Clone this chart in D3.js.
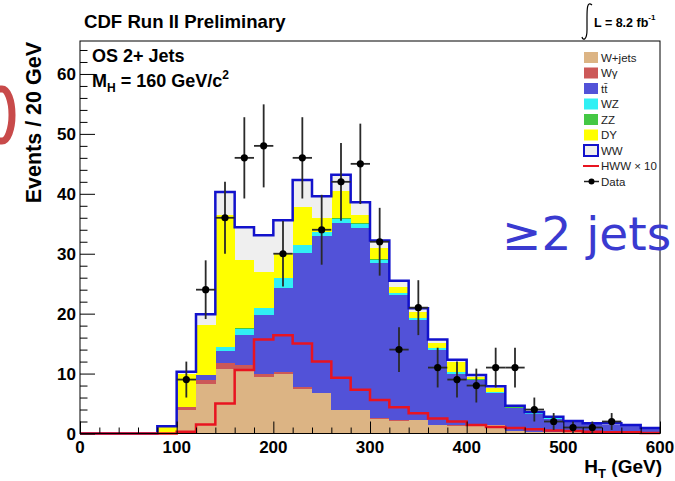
<!DOCTYPE html>
<html><head><meta charset="utf-8">
<script src="https://cdn.jsdelivr.net/npm/d3@7"></script>
<style>
html,body{margin:0;padding:0;background:#fff;}
svg{display:block;}
text{font-family:"Liberation Sans",Arial,Helvetica,sans-serif;}
</style></head>
<body>
<svg id="c" width="675" height="481"></svg>
<script>
// ---- data (bins of 20 GeV, lower edges) ----
const binLow = [0,20,40,60,80,100,120,140,160,180,200,220,240,260,280,300,320,340,360,380,400,420,440,460,480,500,520,540,560,580];
const binWidth = 20;
const wjets  = [0,0,0,0,0, 3.9,8.2,10.8,10.5,9.4,10.0,7.5,6.7,3.9,3.9,2.5,2.1,2.2,1.4,1.3,1.4,1.4,0.4,0.3,0.3,0.2,0.2,0.1,0.5,0.1];
const wgamma = [0,0,0,0,0, 0.5,0.8,0.9,0.9,0.5,0.2,0.2,0.1,0.1,0.1,0.1,0.1,0.1,0.1,0.1,0.05,0.05,0,0,0,0,0,0,0,0];
const ttbar  = [0,0,0,0,0, 0.1,0.7,2.0,5.0,9.9,14.0,22.5,26.1,31.1,30.3,25.9,20.9,16.6,12.5,8.6,7.4,5.3,3.8,3.0,2.2,1.7,1.4,1.4,0.8,0.7];
const wz     = [0,0,0,0,0, 0,0.1,0.7,1.1,1.1,1.7,1.2,0.7,0.7,0.7,0.5,0.3,0.3,0.2,0.2,0.1,0.1,0.1,0.05,0.05,0,0,0,0,0];
const zz     = [0,0,0,0,0, 0,0,0.1,0.1,0.1,0.1,0.1,0.1,0.1,0.1,0.1,0.1,0.1,0.1,0.1,0.1,0.05,0.05,0,0,0,0,0,0,0];
const dy     = [0,0,0,0,1.1, 5.4,8.3,22.0,11.4,6.0,4.1,6.3,2.2,4.5,1.4,1.8,1.0,0.9,0.8,1.6,0.3,0.7,0.1,0.1,0.05,0,0,0,0,0];
const ww     = [0,0,0,0,0.1, 0.4,1.8,3.8,5.4,6.1,5.5,4.5,3.7,2.8,2.1,1.3,1.0,0.7,0.6,0.4,0.4,0.3,0.2,0.15,0.2,0.2,0.1,0.2,0.1,0.1];
const hww10  = [0,0,0,0,0, 0.3,1.5,5.0,10.6,15.7,16.4,15.0,12.0,9.3,7.3,5.6,4.4,3.4,2.5,2.0,1.4,1.1,0.9,0.7,0.5,0.4,0.3,0.2,0.2,0.1];
const dataCounts = [0,0,0,0,0, 9,24,36,46,48,30,46,34,42,45,32,14,21,11,9,8,11,11,4,2,1,1,2,0,0];

const seriesNames  = ["W+jets","Wγ","tt̄","WZ","ZZ","DY","WW"];
const seriesColors = ["#dcb484","#cc5858","#5252d8","#30f0f4","#44c844","#ffff00","#efefef"];
const seriesValues = [wjets,wgamma,ttbar,wz,zz,dy,ww];
const xTicks = [0,100,200,300,400,500,600];
const yTicks = [0,10,20,30,40,50,60];

// ---- layout ----
const svg = d3.select("#c");
const L=80, R=660, T=41, B=433.5;
const x = d3.scaleLinear().domain([0,600]).range([L,R]);
const y = d3.scaleLinear().domain([0,65.5]).range([B,T]);

const table = binLow.map((b,i)=>{const o={x0:b}; seriesNames.forEach((n,k)=>o[n]=seriesValues[k][i]); return o;});
const stack = d3.stack().keys(seriesNames)(table);

const g = svg.append("g");
stack.forEach((layer,k)=>{
  g.append("g").selectAll("rect").data(layer).join("rect")
    .attr("x", d=>x(d.data.x0))
    .attr("width", d=>x(d.data.x0+binWidth)-x(d.data.x0)+0.4)
    .attr("y", d=>y(d[1]))
    .attr("height", d=>Math.max(0,y(d[0])-y(d[1])))
    .attr("fill", seriesColors[k])
    .attr("shape-rendering","crispEdges");
});

function stepPoints(vals){
  const pts = binLow.map((b,i)=>[b,vals[i]]);
  pts.push([binLow[binLow.length-1]+binWidth, vals[vals.length-1]]);
  return pts;
}
const stepLine = d3.line().x(d=>x(d[0])).y(d=>y(d[1])).curve(d3.curveStepAfter);
const totals = binLow.map((b,i)=>seriesValues.reduce((s,a)=>s+a[i],0));
g.append("path").attr("d", stepLine(stepPoints(totals)))
  .attr("fill","none").attr("stroke","#1212cc").attr("stroke-width",2.5);
g.append("path").attr("d", stepLine(stepPoints(hww10)))
  .attr("fill","none").attr("stroke","#e81420").attr("stroke-width",2.5);

// data points
const pts = binLow.map((b,i)=>({x0:b,n:dataCounts[i]})).filter(d=>d.n>0);
const dg = g.append("g");
dg.selectAll("line.v").data(pts).join("line").attr("class","v")
  .attr("x1",d=>x(d.x0+binWidth/2)).attr("x2",d=>x(d.x0+binWidth/2))
  .attr("y1",d=>y(d.n+Math.sqrt(d.n))).attr("y2",d=>y(Math.max(0,d.n-Math.sqrt(d.n))))
  .attr("stroke","#2a2a2a").attr("stroke-width",1.8);
dg.selectAll("line.h").data(pts).join("line").attr("class","h")
  .attr("x1",d=>x(d.x0)).attr("x2",d=>x(d.x0+binWidth))
  .attr("y1",d=>y(d.n)).attr("y2",d=>y(d.n))
  .attr("stroke","#2a2a2a").attr("stroke-width",1.8);
dg.selectAll("circle").data(pts).join("circle")
  .attr("cx",d=>x(d.x0+binWidth/2)).attr("cy",d=>y(d.n)).attr("r",3.6).attr("fill","#000");

// frame
svg.append("rect").attr("x",L).attr("y",T).attr("width",R-L).attr("height",B-T)
  .attr("fill","none").attr("stroke","#000").attr("stroke-width",1);

// y axis ticks (inward)
svg.append("g").attr("transform",`translate(${L},0)`)
  .call(d3.axisRight(y).tickValues(yTicks).tickSize(15).tickFormat(""))
  .call(s=>s.select(".domain").remove());
const yMinor = d3.range(0,65,2).filter(v=>v%10!==0);
svg.append("g").attr("transform",`translate(${L},0)`)
  .call(d3.axisRight(y).tickValues(yMinor).tickSize(7.5).tickFormat(""))
  .call(s=>s.select(".domain").remove());
svg.append("g").selectAll("text").data(yTicks).join("text")
  .attr("x",L-4).attr("y",d=>y(d)).attr("dy","0.36em").attr("text-anchor","end")
  .attr("font-weight","bold").attr("font-size",17).text(d=>d);

// x axis ticks (inward)
svg.append("g").attr("transform",`translate(0,${B})`)
  .call(d3.axisTop(x).tickValues(xTicks).tickSize(12).tickFormat(""))
  .call(s=>s.select(".domain").remove());
svg.append("g").attr("transform",`translate(0,${B})`)
  .call(d3.axisTop(x).tickValues(binLow.filter(v=>v%100!==0)).tickSize(6).tickFormat(""))
  .call(s=>s.select(".domain").remove());
svg.selectAll(".tick line").attr("stroke","#000").attr("stroke-width",1);
svg.append("g").selectAll("text").data(xTicks).join("text")
  .attr("x",d=>x(d)).attr("y",453).attr("text-anchor","middle")
  .attr("font-weight","bold").attr("font-size",17).text(d=>d);

// axis titles
svg.append("text").attr("transform",`translate(41,42) rotate(-90)`).attr("text-anchor","end")
  .attr("font-weight","bold").attr("font-size",21.5).text("Events / 20 GeV");
const xt = svg.append("text").attr("x",662).attr("y",473).attr("text-anchor","end")
  .attr("font-weight","bold").attr("font-size",19);
xt.append("tspan").text("H");
xt.append("tspan").attr("font-size",13).attr("dy",5).text("T");
xt.append("tspan").attr("dy",-5).text(" (GeV)");

// header texts
svg.append("text").attr("x",84).attr("y",28).attr("font-weight","bold").attr("font-size",18.6)
  .text("CDF Run II Preliminary");
svg.append("path").attr("d","M592,5 C587,1 587,9 587,18 L587,30 C587,40 583,41 582,37")
  .attr("fill","none").attr("stroke","#000").attr("stroke-width",1.2);
const lum = svg.append("text").attr("x",594).attr("y",27).attr("font-weight","bold").attr("font-size",12.5);
lum.append("tspan").text("L = 8.2 fb");
lum.append("tspan").attr("font-size",8).attr("dy",-7).text("-1");

svg.append("text").attr("x",92).attr("y",62).attr("font-weight","bold").attr("font-size",18).text("OS 2+ Jets");
const mh = svg.append("text").attr("x",92).attr("y",87).attr("font-weight","bold").attr("font-size",18);
mh.append("tspan").text("M");
mh.append("tspan").attr("font-size",12).attr("dy",5).text("H");
mh.append("tspan").attr("dy",-5).text(" = 160 GeV/c");
mh.append("tspan").attr("font-size",12).attr("dy",-8).text("2");

// legend
const legY = [57.5,73,88.5,104,119.5,135,150.5,166,181.5];
const lg = svg.append("g");
seriesNames.forEach((n,k)=>{
  const isWW = n==="WW";
  lg.append("rect").attr("x",584).attr("y",legY[k]-5.5).attr("width",14).attr("height",11)
    .attr("fill",seriesColors[k]).attr("stroke",isWW?"#1212cc":"none").attr("stroke-width",isWW?2:0);
  lg.append("text").attr("x",601).attr("y",legY[k]).attr("dy","0.36em").attr("font-size",11.5)
    .attr("fill","#222").text(n);
});
lg.append("line").attr("x1",583).attr("x2",599).attr("y1",legY[7]).attr("y2",legY[7])
  .attr("stroke","#e81420").attr("stroke-width",2);
lg.append("text").attr("x",601).attr("y",legY[7]).attr("dy","0.36em").attr("font-size",11.5)
  .attr("fill","#222").text("HWW × 10");
lg.append("line").attr("x1",584).attr("x2",599).attr("y1",legY[8]).attr("y2",legY[8])
  .attr("stroke","#222").attr("stroke-width",1.5);
lg.append("circle").attr("cx",591.5).attr("cy",legY[8]).attr("r",3).attr("fill","#000");
lg.append("text").attr("x",601).attr("y",legY[8]).attr("dy","0.36em").attr("font-size",11.5)
  .attr("fill","#222").text("Data");

// slide overlay text
svg.append("text").attr("x",502).attr("y",250).style("font-family","'DejaVu Sans',sans-serif")
  .attr("font-size",47).attr("fill","#3a3ad0").text("≥2 jets");
svg.append("path").attr("d","M0,89 L2,89 A10,26 0 0 1 2,141 L0,141")
  .attr("fill","none").attr("stroke","#c84a4a").attr("stroke-width",7);
</script>
</body></html>
